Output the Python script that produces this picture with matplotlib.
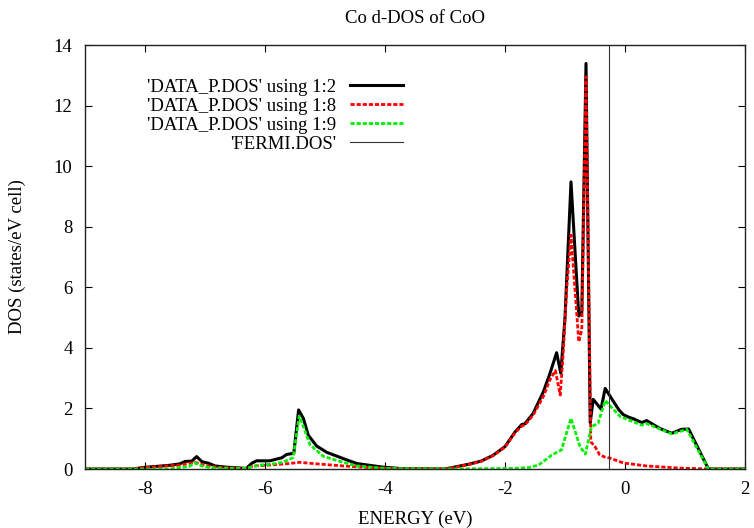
"""Co d-DOS of CoO: total d (1:2), e_g-like (1:8) and t2g-like (1:9) columns + Fermi level."""
import matplotlib
matplotlib.use("Agg")
import matplotlib.pyplot as plt

plt.rcParams["font.family"] = ["Liberation Serif", "DejaVu Serif"]
plt.rcParams["font.size"] = 13.5
plt.rcParams["axes.unicode_minus"] = False

# column 1:2 -- total Co d
energy_total = [-9.0, -8.2, -8.03, -7.6, -7.42, -7.33, -7.22, -7.14, -7.05, -6.94, -6.83,
                -6.64, -6.31, -6.22, -6.14, -5.92, -5.72, -5.64, -5.52, -5.44, -5.36, -5.28,
                -5.14, -4.97, -4.69, -4.47, -4.03, -3.7, -3.0, -2.8, -2.6, -2.4, -2.2, -2.0,
                -1.83, -1.72, -1.67, -1.53, -1.36, -1.25, -1.14, -1.07, -1.0, -0.9, -0.77,
                -0.72, -0.65, -0.58, -0.53, -0.40, -0.33, -0.19, -0.1, -0.03, 0.05, 0.15,
                0.28, 0.36, 0.58, 0.78, 0.94, 1.06, 1.39, 2.0]
dos_total = [0.0, 0.0, 0.05, 0.12, 0.17, 0.25, 0.26, 0.41, 0.24, 0.19, 0.1,
             0.06, 0.02, 0.19, 0.27, 0.27, 0.37, 0.48, 0.52, 1.95, 1.67, 1.12,
             0.76, 0.55, 0.34, 0.18, 0.06, 0.01, 0.0, 0.08, 0.16, 0.26, 0.45, 0.74,
             1.23, 1.47, 1.49, 1.84, 2.55, 3.16, 3.84, 3.16, 5.0, 9.48, 5.05,
             5.18, 13.39, 1.52, 2.3, 1.98, 2.66, 2.22, 1.95, 1.8, 1.72, 1.65,
             1.53, 1.6, 1.34, 1.18, 1.31, 1.32, 0.0, 0.0]

# column 1:8
energy_c8 = [-9.0, -8.2, -8.0, -7.42, -7.3, -7.17, -7.05, -6.9, -6.6, -6.3, -6.2, -5.92,
             -5.6, -5.43, -5.14, -4.69, -4.3, -3.7, -3.0, -2.8, -2.6, -2.4, -2.2, -2.0,
             -1.83, -1.72, -1.67, -1.53, -1.36, -1.25, -1.16, -1.08, -1.03, -0.97, -0.9,
             -0.77, -0.72, -0.65, -0.57, -0.5, -0.42, -0.33, -0.25, -0.03, 0.36, 0.92,
             1.39, 2.0]
dos_c8 = [0.0, 0.0, 0.05, 0.13, 0.17, 0.22, 0.15, 0.08, 0.04, 0.02, 0.1, 0.13,
          0.18, 0.22, 0.17, 0.1, 0.05, 0.0, 0.0, 0.07, 0.15, 0.25, 0.44, 0.72,
          1.2, 1.42, 1.45, 1.78, 2.4, 2.95, 3.25, 2.44, 3.8, 6.0, 7.72,
          4.2, 4.6, 12.95, 0.9, 0.74, 0.46, 0.39, 0.36, 0.2, 0.1, 0.03,
          0.0, 0.0]

# column 1:9
energy_c9 = [-9.0, -7.6, -7.4, -7.25, -7.17, -7.05, -6.9, -6.6, -6.3, -6.2, -6.08, -5.92,
             -5.7, -5.53, -5.43, -5.36, -5.25, -5.03, -4.75, -4.47, -4.0, -3.0, -1.86,
             -1.6, -1.44, -1.22, -1.06, -0.9, -0.75, -0.66, -0.56, -0.45, -0.33, -0.08,
             0.28, 0.36, 0.78, 1.03, 1.39, 2.0]
dos_c9 = [0.0, 0.0, 0.05, 0.1, 0.2, 0.1, 0.04, 0.02, 0.02, 0.08, 0.13, 0.15,
          0.22, 0.38, 1.75, 1.4, 0.8, 0.42, 0.25, 0.1, 0.02, 0.0, 0.02,
          0.05, 0.13, 0.46, 0.63, 1.67, 0.74, 0.49, 1.4, 1.5, 2.26, 1.73,
          1.45, 1.5, 1.16, 1.31, 0.0, 0.0]

# FERMI.DOS
fermi_energy = [-0.27, -0.27]
fermi_dos = [0.0, 14.0]

labels = ["'DATA_P.DOS' using 1:2", "'DATA_P.DOS' using 1:8",
          "'DATA_P.DOS' using 1:9", "'FERMI.DOS'"]

fig = plt.figure(figsize=(7.54, 5.28), dpi=100)
ax = fig.add_axes([85 / 754, 59 / 528, 660 / 754, 424 / 528])

ax.plot(energy_total, dos_total, color="black", lw=2.2, label=labels[0])
ax.plot(energy_c8, dos_c8, color="#ff0000", lw=2.0, ls=(0, (1.5, 0.7)), label=labels[1])
ax.plot(energy_c9, dos_c9, color="#00f000", lw=2.0, ls=(0, (1.5, 0.7)), label=labels[2])
ax.plot(fermi_energy, fermi_dos, color="#333333", lw=0.8, label=labels[3])

ax.set_xlim(-9, 2)
ax.set_ylim(0, 14)
ax.set_xticks([-8, -6, -4, -2, 0, 2])
ax.set_yticks(range(0, 15, 2))
ax.tick_params(direction="in", length=5, width=0.8, top=True, right=True, pad=9)
for s in ax.spines.values():
    s.set_linewidth(1.0)
    s.set_color("#222222")

ax.set_title("Co d-DOS of CoO", fontsize=13.5, pad=16)
ax.set_xlabel("ENERGY (eV)", labelpad=9)
ax.set_ylabel("DOS (states/eV cell)", labelpad=20)

ax.legend(loc="upper right", bbox_to_anchor=(0.482, 0.921), frameon=False, markerfirst=False,
          handlelength=2.85, handletextpad=0.7, labelspacing=0.1, borderaxespad=0,
          borderpad=0)

fig.savefig("out.png", dpi=100)
